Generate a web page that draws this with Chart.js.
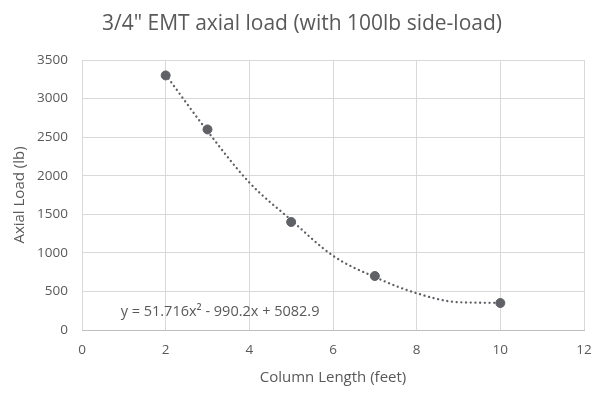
<!DOCTYPE html>
<html>
<head>
<meta charset="utf-8">
<script src="https://cdn.jsdelivr.net/npm/chart.js@4"></script>
<style>
    html, body { margin: 0; padding: 0; background: #fff; }
    #wrap { width: 604px; height: 397px; }
</style>
</head>
<body>
<div id="wrap"><canvas id="loadChart" width="604" height="397"></canvas></div>
<script>
const lengths = [2, 3, 5, 7, 10];
const loads = [3300, 2600, 1400, 700, 350];

// dotted trend curve
const trendX = [2, 3, 4, 5, 6, 7, 8, 9, 10];
const trendY = [3310, 2578, 1912, 1425, 963, 686, 477, 360, 352];
const trendLabel = "y = 51.716x² - 990.2x + 5082.9";
const chartTitle = "3/4\" EMT axial load (with 100lb side-load)";

const grey = "#595959";
const markGrey = "#5f6166";
const fontName = "Open Sans";

const textPlugin = {
    id: "textPlugin",
    afterDraw(chart) {
        const ctx = chart.ctx;
        ctx.save();
        ctx.fillStyle = grey;
        ctx.textAlign = "center";
        ctx.textBaseline = "middle";
        ctx.font = "21px " + fontName;
        ctx.fillText(chartTitle, 302, 24);
        ctx.font = "14.5px " + fontName;
        const x = chart.scales.x.getPixelForValue(3.3);
        const y = chart.scales.y.getPixelForValue(240);
        ctx.fillText(trendLabel, x, y);
        ctx.restore();
    }
};

const ctx = document.getElementById("loadChart").getContext("2d");

new Chart(ctx, {
    type: "scatter",
    data: {
        datasets: [{
            label: "Trend",
            data: trendX.map((x, i) => ({ x: x, y: trendY[i] })),
            showLine: true,
            borderColor: markGrey,
            borderWidth: 2.3,
            borderDash: [0.1, 4.6],
            borderCapStyle: "round",
            cubicInterpolationMode: "monotone",
            pointRadius: 0,
            order: 2
        }, {
            label: "Axial load",
            data: lengths.map((x, i) => ({ x: x, y: loads[i] })),
            backgroundColor: markGrey,
            borderColor: markGrey,
            pointRadius: 4.5,
            order: 1
        }]
    },
    options: {
        responsive: false,
        animation: false,
        layout: { padding: { left: 0, right: 20, top: 60, bottom: 0 } },
        plugins: {
            legend: { display: false },
            tooltip: { enabled: false },
            title: { display: false }
        },
        scales: {
            x: {
                type: "linear",
                min: 0,
                max: 12,
                ticks: {
                    stepSize: 2,
                    color: grey,
                    padding: 12,
                    font: { family: fontName, size: 13.5 },
                    callback: v => String(v)
                },
                grid: { color: "#d9d9d9", drawTicks: false },
                border: { color: "#bfbfbf" },
                title: {
                    display: true,
                    text: "Column Length (feet)",
                    color: grey,
                    font: { family: fontName, size: 15 },
                    padding: { top: 0, bottom: 10 }
                },
                afterFit(scale) { scale.height = 67; }
            },
            y: {
                min: 0,
                max: 3500,
                ticks: {
                    stepSize: 500,
                    color: grey,
                    padding: 14,
                    font: { family: fontName, size: 13.5 },
                    callback: v => String(v)
                },
                grid: { color: "#d9d9d9", drawTicks: false },
                border: { display: false },
                title: {
                    display: true,
                    text: "Axial Load (lb)",
                    color: grey,
                    font: { family: fontName, size: 15 },
                    padding: { top: 11, bottom: 0 }
                },
                afterFit(scale) { scale.width = 82; }
            }
        }
    },
    plugins: [textPlugin]
});
</script>
</body>
</html>
